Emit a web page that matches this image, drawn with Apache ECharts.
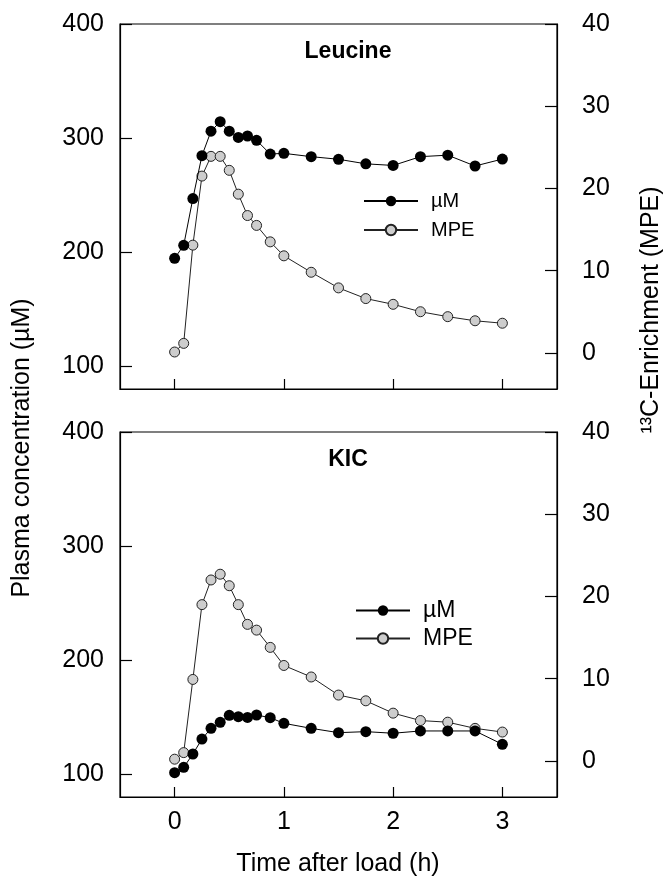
<!DOCTYPE html>
<html>
<head>
<meta charset="utf-8">
<script src="https://cdn.jsdelivr.net/npm/echarts@6/dist/echarts.min.js"></script>
<style>html,body{margin:0;padding:0;background:#fff;}#c{width:668px;height:884px;}</style>
</head>
<body>
<div id="c"></div>
<script>
// time after load (h)
const times = [0, 0.083, 0.167, 0.25, 0.333, 0.417, 0.5, 0.583, 0.667, 0.75, 0.875, 1, 1.25, 1.5, 1.75, 2, 2.25, 2.5, 2.75, 3];
// Leucine panel
const leuUM  = [194.6, 206, 247, 284.6, 306, 314.4, 306, 300.6, 301.8, 298, 286, 286.6, 283.7, 281.4, 277.4, 276, 283.7, 285, 275.5, 281.6];
const leuMPE = [0.1, 1.15, 13.1, 21.5, 23.9, 23.9, 22.2, 19.3, 16.7, 15.5, 13.5, 11.8, 9.8, 7.9, 6.6, 5.9, 5.0, 4.4, 3.9, 3.6];
// KIC panel
const kicUM  = [101.3, 106, 117.7, 130.8, 140.2, 145.5, 151.6, 150.4, 149.8, 151.9, 149.5, 144.6, 140.2, 136.4, 137.3, 135.9, 137.9, 137.9, 137.9, 126.2];
const kicMPE = [0.2, 1.0, 9.9, 19.0, 22.0, 22.7, 21.3, 19.0, 16.6, 15.9, 13.8, 11.6, 10.2, 8.0, 7.3, 5.8, 4.9, 4.7, 3.95, 3.5];
// tick labels
const xTicks = [0, 1, 2, 3];
const leftTicks = [100, 200, 300, 400];
const rightTicks = [0, 10, 20, 30, 40];
const panelTitles = ['Leucine', 'KIC'];

const FF = '"Liberation Sans", Arial, Helvetica, sans-serif';
const TICK_FS = 25;
const pairs = (t, v) => t.map((x, i) => [x, v[i]]);

const chart = echarts.init(document.getElementById('c'), null, {renderer: 'canvas'});

function xAx(grid, showLabels) {
  return {
    type: 'value', gridIndex: grid, min: -0.5, max: 3.5,
    axisLine: {show: true, onZero: false, lineStyle: {color: '#000', width: 1.2}},
    axisTick: {show: true, inside: true, length: 10, customValues: xTicks, lineStyle: {color: '#000', width: 1.2}},
    axisLabel: {show: showLabels, customValues: xTicks, margin: 13, fontSize: TICK_FS, color: '#000', fontFamily: FF},
    splitLine: {show: false}
  };
}
function yLeft(grid) {
  return {
    type: 'value', gridIndex: grid, position: 'left', min: 80, max: 400,
    axisLine: {show: true, onZero: false, lineStyle: {color: '#000', width: 1.2}},
    axisTick: {show: true, inside: true, length: 12, customValues: leftTicks, lineStyle: {color: '#000', width: 1.2}},
    axisLabel: {customValues: leftTicks, margin: 16, fontSize: TICK_FS, color: '#000', fontFamily: FF},
    splitLine: {show: false}
  };
}
function yRight(grid) {
  return {
    type: 'value', gridIndex: grid, position: 'right', min: -4.4, max: 40,
    axisLine: {show: true, onZero: false, lineStyle: {color: '#000', width: 1.2}},
    axisTick: {show: true, inside: true, length: 12, customValues: rightTicks, lineStyle: {color: '#000', width: 1.2}},
    axisLabel: {customValues: rightTicks, margin: 25, fontSize: TICK_FS, color: '#000', fontFamily: FF, align: 'left'},
    splitLine: {show: false}
  };
}
function sUM(name, xi, yi, data) {
  return {type: 'line', name: name, xAxisIndex: xi, yAxisIndex: yi, data: data,
    symbol: 'circle', symbolSize: 11, z: 4,
    itemStyle: {color: '#000', borderColor: '#000', borderWidth: 0},
    lineStyle: {color: '#000', width: 1}};
}
function sMPE(name, xi, yi, data) {
  return {type: 'line', name: name, xAxisIndex: xi, yAxisIndex: yi, data: data,
    symbol: 'circle', symbolSize: 10, z: 3,
    itemStyle: {color: '#cdcdcd', borderColor: '#222', borderWidth: 1},
    lineStyle: {color: '#222', width: 1}};
}
function leg(left, top, fs, gap) {
  return {data: ['µM', 'MPE'], orient: 'vertical', left: left, top: top, padding: 0,
    itemWidth: 54, itemHeight: 13, itemGap: gap, selectedMode: false,
    textStyle: {fontSize: fs, color: '#000', fontFamily: FF, padding: [0, 0, 0, 8]}};
}

chart.setOption({
  animation: false,
  backgroundColor: '#fff',
  grid: [
    {left: 120, top: 24, width: 437, height: 365, show: true, borderColor: '#000', borderWidth: 1.2, backgroundColor: 'transparent'},
    {left: 120, top: 432, width: 437, height: 365, show: true, borderColor: '#000', borderWidth: 1.2, backgroundColor: 'transparent'}
  ],
  xAxis: [xAx(0, false), xAx(1, true)],
  yAxis: [yLeft(0), yRight(0), yLeft(1), yRight(1)],
  legend: [leg(363, 191, 20, 9), leg(355, 599, 23, 5)],
  series: [
    sUM('µM', 0, 0, pairs(times, leuUM)),
    sMPE('MPE', 0, 1, pairs(times, leuMPE)),
    sUM('µM', 1, 2, pairs(times, kicUM)),
    sMPE('MPE', 1, 3, pairs(times, kicMPE))
  ],
  graphic: [
    {type: 'text', x: 348, y: 52, style: {text: panelTitles[0], font: 'bold 23px ' + FF, fill: '#000', textAlign: 'center', textVerticalAlign: 'middle'}},
    {type: 'text', x: 348, y: 460, style: {text: panelTitles[1], font: 'bold 23px ' + FF, fill: '#000', textAlign: 'center', textVerticalAlign: 'middle'}},
    {type: 'text', x: 22, y: 448, rotation: Math.PI / 2, style: {text: 'Plasma concentration (µM)', font: '25px ' + FF, fill: '#000', textAlign: 'center', textVerticalAlign: 'middle'}},
    {type: 'text', x: 651, y: 310, rotation: Math.PI / 2, style: {text: '¹³C-Enrichment (MPE)', font: '25px ' + FF, fill: '#000', textAlign: 'center', textVerticalAlign: 'middle'}},
    {type: 'text', x: 338, y: 864, style: {text: 'Time after load (h)', font: '25px ' + FF, fill: '#000', textAlign: 'center', textVerticalAlign: 'middle'}}
  ]
});
</script>
</body>
</html>
